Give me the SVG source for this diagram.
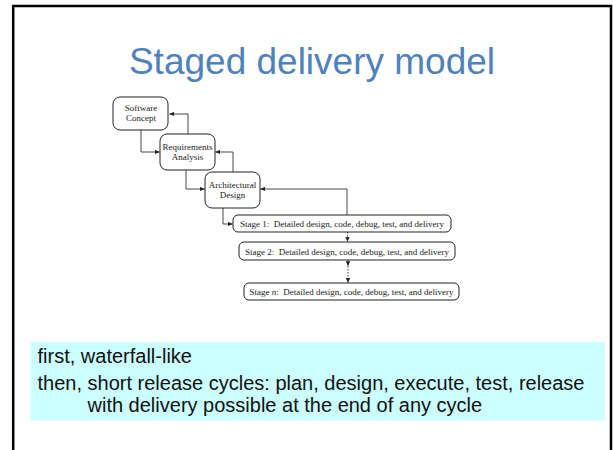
<svg xmlns="http://www.w3.org/2000/svg" width="613" height="450" viewBox="0 0 613 450">
  <style>
    .box { fill: #ffffff; stroke: #222222; stroke-width: 1; }
    .lbl { font-family: "Liberation Serif", "Times New Roman", serif; font-size: 9px; fill: #1a1a1a; text-anchor: middle; }
    .conn { fill: none; stroke: #333333; stroke-width: 0.9; }
    .dot { stroke-dasharray: 1.5 1.5; }
    .body { font-family: "Liberation Sans", Arial, sans-serif; font-size: 20px; fill: #111111; }
  </style>
  <defs>
    <marker id="ah" viewBox="0 0 8 8" refX="7.5" refY="4" markerWidth="5" markerHeight="5" markerUnits="userSpaceOnUse" orient="auto">
      <path d="M0,0.5 L8,4 L0,7.5 Z" fill="#222222"/>
    </marker>
  </defs>
  <rect x="0" y="0" width="613" height="450" fill="#ffffff"/>
  <path d="M13.2,452 V6 H611 V452" fill="none" stroke="#000000" stroke-width="2.5"/>
  <text x="312" y="74" font-family="Liberation Sans, Arial, sans-serif" font-size="37" fill="#4F81BD" text-anchor="middle">Staged delivery model</text>

  <g id="connectors">
    <path class="conn" d="M141,130 V152 H159.5" marker-end="url(#ah)"/>
    <path class="conn" d="M188,134 V114 H169.5" marker-end="url(#ah)"/>
    <path class="conn" d="M186,170 V189 H204.5" marker-end="url(#ah)"/>
    <path class="conn" d="M233,172 V152 H215.5" marker-end="url(#ah)"/>
    <path class="conn" d="M347,215 V189 H260.5" marker-end="url(#ah)"/>
    <path class="conn" d="M223,208 V224 H232.5" marker-end="url(#ah)"/>
    <path class="conn dot" d="M347.5,232 V241.5" marker-end="url(#ah)"/>
    <path class="conn dot" d="M348,260 V266" marker-end="url(#ah)"/>
    <path class="conn dot" d="M348,266 V282.5" marker-end="url(#ah)"/>
  </g>

  <g id="software-concept">
    <rect class="box" x="113" y="97" width="55" height="33" rx="7"/>
    <text class="lbl" x="141" y="111">Software</text>
    <text class="lbl" x="141" y="121">Concept</text>
  </g>
  <g id="requirements-analysis">
    <rect class="box" x="160" y="134" width="55" height="36" rx="7"/>
    <text class="lbl" x="187.5" y="150">Requirements</text>
    <text class="lbl" x="187.5" y="160">Analysis</text>
  </g>
  <g id="architectural-design">
    <rect class="box" x="205" y="172" width="55" height="36" rx="7"/>
    <text class="lbl" x="232.5" y="188">Architectural</text>
    <text class="lbl" x="232.5" y="198">Design</text>
  </g>
  <g id="stage-1">
    <rect class="box" x="233" y="215" width="218" height="17" rx="5"/>
    <text class="lbl" x="342" y="227">Stage 1:&#160; Detailed design, code, debug, test, and delivery</text>
  </g>
  <g id="stage-2">
    <rect class="box" x="239" y="242" width="216" height="18" rx="5"/>
    <text class="lbl" x="347" y="254.5">Stage 2:&#160; Detailed design, code, debug, test, and delivery</text>
  </g>
  <g id="stage-n">
    <rect class="box" x="244" y="283" width="215" height="17" rx="5"/>
    <text class="lbl" x="351.5" y="295">Stage <tspan font-style="italic">n</tspan>:&#160; Detailed design, code, debug, test, and delivery</text>
  </g>

  <g id="notes">
    <rect x="30.5" y="342" width="574.5" height="78.5" fill="#CCFFFF"/>
    <text class="body" x="37.5" y="362.5">first, waterfall-like</text>
    <text class="body" x="37.5" y="389.5">then, short release cycles: plan, design, execute, test, release</text>
    <text class="body" x="87.5" y="411.5">with delivery possible at the end of any cycle</text>
  </g>
</svg>
